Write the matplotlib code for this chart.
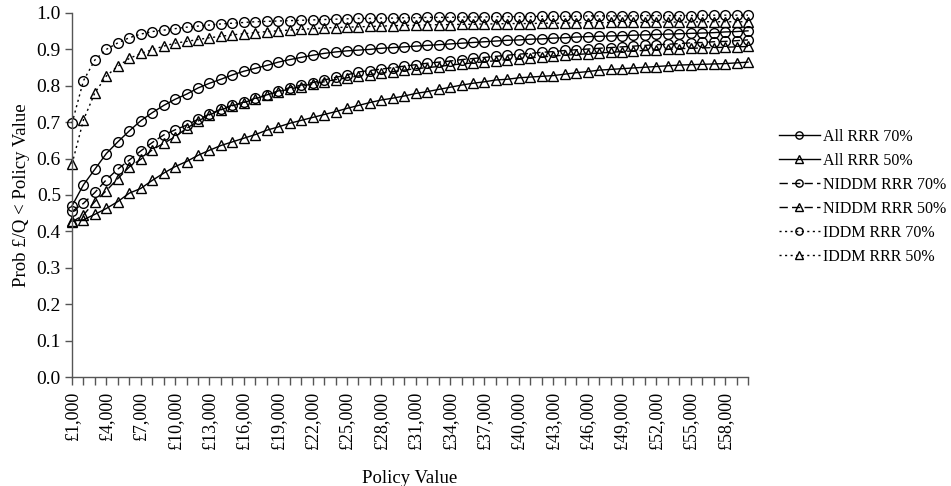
import matplotlib
matplotlib.use("Agg")
import matplotlib.pyplot as plt
from matplotlib.ticker import FixedLocator, FuncFormatter

plt.rcParams['font.family'] = ['Liberation Serif', 'DejaVu Serif']

# Policy values (£1,000 to £60,000 in steps of £1,000)
policy_values = list(range(1000, 61000, 1000))

all_rrr_70 = [0.470, 0.528, 0.571, 0.614, 0.646, 0.676, 0.704, 0.726, 0.746, 0.763,
              0.777, 0.794, 0.807, 0.818, 0.830, 0.840, 0.848, 0.856, 0.865, 0.872,
              0.878, 0.884, 0.889, 0.893, 0.896, 0.898, 0.900, 0.903, 0.905, 0.907,
              0.909, 0.911, 0.913, 0.915, 0.917, 0.919, 0.921, 0.923, 0.925, 0.926,
              0.928, 0.929, 0.931, 0.932, 0.934, 0.935, 0.936, 0.937, 0.938, 0.939,
              0.940, 0.941, 0.942, 0.943, 0.944, 0.945, 0.946, 0.948, 0.949, 0.951]

all_rrr_50 = [0.428, 0.432, 0.447, 0.463, 0.482, 0.505, 0.518, 0.540, 0.560, 0.578,
              0.592, 0.609, 0.623, 0.636, 0.646, 0.656, 0.666, 0.678, 0.687, 0.697,
              0.705, 0.713, 0.721, 0.729, 0.738, 0.746, 0.754, 0.761, 0.766, 0.772,
              0.779, 0.784, 0.790, 0.796, 0.802, 0.807, 0.811, 0.816, 0.818, 0.822,
              0.824, 0.826, 0.828, 0.832, 0.836, 0.839, 0.843, 0.845, 0.847, 0.849,
              0.851, 0.853, 0.855, 0.857, 0.858, 0.859, 0.860, 0.861, 0.863, 0.865]

niddm_rrr_70 = [0.455, 0.477, 0.507, 0.542, 0.571, 0.596, 0.621, 0.644, 0.665, 0.679,
                0.692, 0.708, 0.722, 0.736, 0.747, 0.755, 0.766, 0.775, 0.786, 0.795,
                0.802, 0.809, 0.816, 0.823, 0.830, 0.838, 0.842, 0.846, 0.850, 0.854,
                0.858, 0.862, 0.865, 0.868, 0.872, 0.875, 0.878, 0.881, 0.884, 0.887,
                0.889, 0.892, 0.894, 0.897, 0.899, 0.901, 0.903, 0.905, 0.907, 0.909,
                0.911, 0.913, 0.914, 0.916, 0.918, 0.919, 0.921, 0.922, 0.924, 0.926]

niddm_rrr_50 = [0.426, 0.445, 0.482, 0.512, 0.545, 0.577, 0.598, 0.624, 0.642, 0.660,
                0.683, 0.703, 0.720, 0.734, 0.745, 0.754, 0.764, 0.775, 0.784, 0.791,
                0.798, 0.806, 0.811, 0.817, 0.822, 0.827, 0.831, 0.835, 0.839, 0.843,
                0.847, 0.850, 0.853, 0.857, 0.860, 0.863, 0.866, 0.869, 0.872, 0.874,
                0.877, 0.879, 0.882, 0.884, 0.886, 0.888, 0.890, 0.892, 0.894, 0.896,
                0.897, 0.899, 0.900, 0.902, 0.903, 0.904, 0.905, 0.906, 0.907, 0.908]

iddm_rrr_70 = [0.697, 0.814, 0.871, 0.900, 0.918, 0.932, 0.942, 0.949, 0.953, 0.957,
               0.961, 0.964, 0.967, 0.970, 0.972, 0.974, 0.976, 0.977, 0.978, 0.979,
               0.980, 0.981, 0.982, 0.983, 0.984, 0.985, 0.985, 0.986, 0.986, 0.987,
               0.987, 0.988, 0.988, 0.988, 0.989, 0.989, 0.989, 0.990, 0.990, 0.990,
               0.990, 0.991, 0.991, 0.991, 0.991, 0.992, 0.992, 0.992, 0.992, 0.992,
               0.993, 0.993, 0.993, 0.993, 0.993, 0.994, 0.994, 0.994, 0.994, 0.994]

iddm_rrr_50 = [0.585, 0.706, 0.781, 0.827, 0.854, 0.875, 0.889, 0.899, 0.909, 0.917,
               0.922, 0.927, 0.932, 0.936, 0.940, 0.943, 0.946, 0.949, 0.951, 0.953,
               0.955, 0.957, 0.959, 0.960, 0.961, 0.962, 0.963, 0.964, 0.965, 0.966,
               0.966, 0.967, 0.968, 0.968, 0.969, 0.969, 0.970, 0.970, 0.971, 0.971,
               0.971, 0.972, 0.972, 0.972, 0.973, 0.973, 0.973, 0.974, 0.974, 0.974,
               0.974, 0.975, 0.975, 0.975, 0.975, 0.976, 0.976, 0.976, 0.976, 0.976]

DASHED = (0, (6, 3))
DOTTED = (0, (1.5, 2.5))

series = [
    ("All RRR 70%", all_rrr_70, "o", "-"),
    ("All RRR 50%", all_rrr_50, "^", "-"),
    ("NIDDM RRR 70%", niddm_rrr_70, "o", DASHED),
    ("NIDDM RRR 50%", niddm_rrr_50, "^", DASHED),
    ("IDDM RRR 70%", iddm_rrr_70, "o", DOTTED),
    ("IDDM RRR 50%", iddm_rrr_50, "^", DOTTED),
]

fig = plt.figure(figsize=(9.51, 4.86), dpi=100)
ax = fig.add_axes([72 / 951, 1 - 377 / 486, (748 - 72) / 951, (377 - 13) / 486])

x = list(range(len(policy_values)))
for label, vals, marker, ls in series:
    ax.plot(x, vals, linestyle=ls, color="black", linewidth=1.0,
            marker=marker, markersize=7, markerfacecolor="none",
            markeredgecolor="black", markeredgewidth=1.0, label=label,
            clip_on=False)

ax.set_xlim(0, len(policy_values) - 1)
ax.set_ylim(0, 1.0)

ax.xaxis.set_major_locator(FixedLocator(x))
ax.set_xticklabels([f"£{v:,}" if i % 3 == 0 else "" for i, v in enumerate(policy_values)],
                   rotation=90, fontsize=13)
ax.set_yticks([i / 10 for i in range(11)])
ax.yaxis.set_major_formatter(FuncFormatter(lambda v, p: f"{v:.1f}"))
ax.tick_params(axis="y", labelsize=14, length=5, width=1, color="#555555", pad=3)
ax.tick_params(axis="x", length=6, width=1, color="#555555", pad=4)

for side in ("top", "right"):
    ax.spines[side].set_visible(False)
for side in ("left", "bottom"):
    ax.spines[side].set_color("#555555")
    ax.spines[side].set_linewidth(1.0)

ax.set_xlabel("Policy Value", fontsize=13.5, labelpad=15)
ax.set_ylabel("Prob £/Q < Policy Value", fontsize=13.5, labelpad=5)

leg = ax.legend(loc="center left", bbox_to_anchor=(1.046, 0.495), frameon=False,
                fontsize=11.5, handlelength=2.55, handletextpad=0.2, labelspacing=0.5,
                borderaxespad=0, borderpad=0, markerscale=0.75)

fig.savefig("out.png", dpi=100)
